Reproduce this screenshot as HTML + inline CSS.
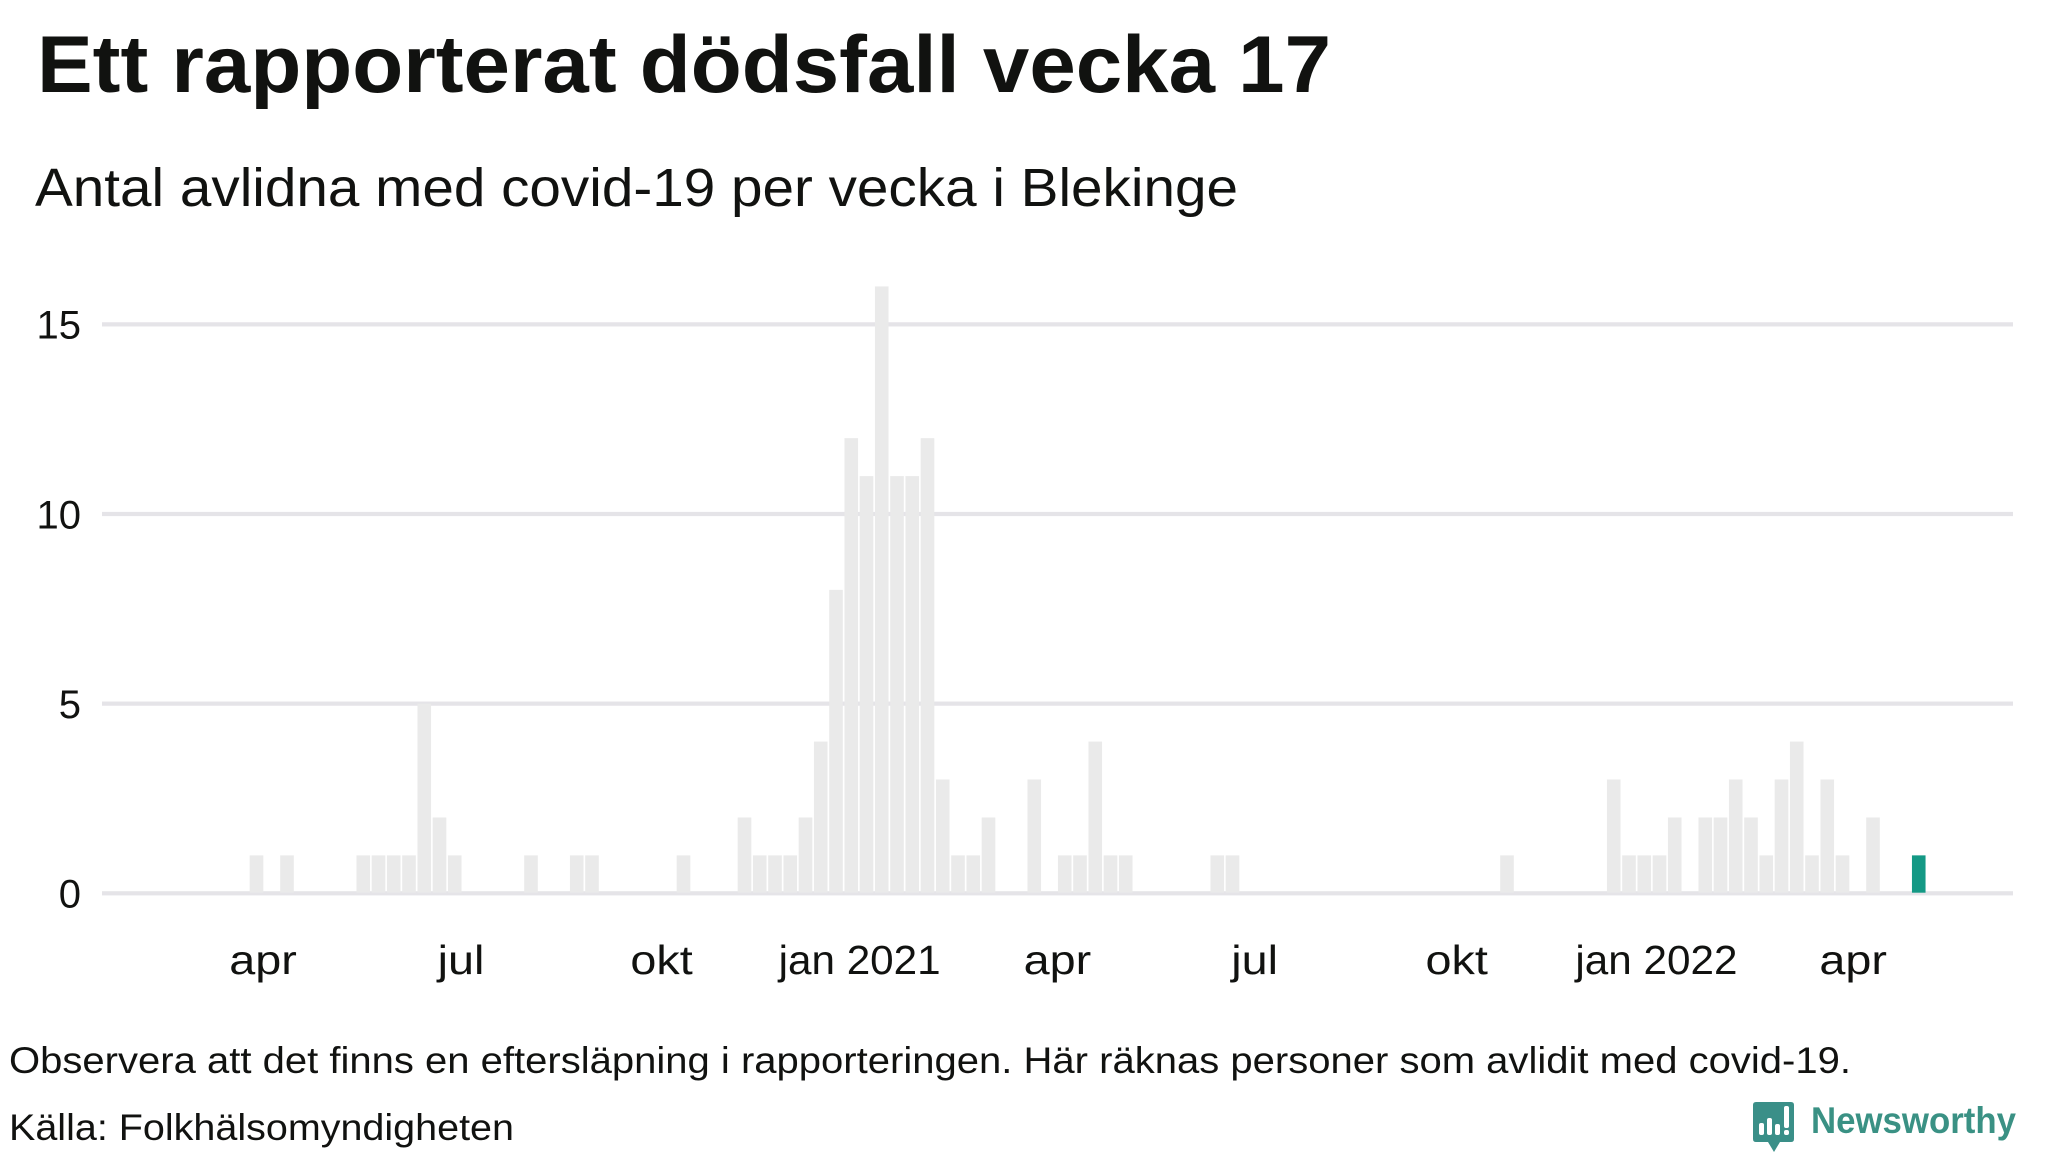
<!DOCTYPE html>
<html lang="sv">
<head>
<meta charset="utf-8">
<title>Ett rapporterat dödsfall vecka 17</title>
<style>
html,body{margin:0;padding:0;background:#fff;width:2048px;height:1152px;overflow:hidden}
svg{display:block}
text{font-family:"Liberation Sans",sans-serif;fill:#111210}
</style>
</head>
<body>
<svg id="chart" xmlns="http://www.w3.org/2000/svg" width="2048" height="1152" viewBox="0 0 2048 1152">
  <text x="37" y="92" font-size="81" font-weight="700" textLength="1294" lengthAdjust="spacingAndGlyphs">Ett rapporterat dödsfall vecka 17</text>
  <text x="35" y="206" font-size="54" textLength="1203" lengthAdjust="spacingAndGlyphs">Antal avlidna med covid-19 per vecka i Blekinge</text>
  <g id="grid"></g>
  <g id="yticks"></g>
  <g id="bars"></g>
  <g id="xticks"></g>
  <text x="9" y="1073" font-size="37" textLength="1842" lengthAdjust="spacingAndGlyphs">Observera att det finns en eftersläpning i rapporteringen. Här räknas personer som avlidit med covid-19.</text>
  <text x="9" y="1140" font-size="37" textLength="505" lengthAdjust="spacingAndGlyphs">Källa: Folkhälsomyndigheten</text>
  <g>
    <path d="M1756 1102H1791Q1794 1102 1794 1105V1139Q1794 1142 1791 1142H1780L1774 1152L1768 1142H1756Q1753 1142 1753 1139V1105Q1753 1102 1756 1102Z" fill="#3a8f88"/>
    <g fill="#fff">
      <rect x="1759" y="1123" width="5" height="12" rx="2"/>
      <rect x="1767" y="1118" width="5" height="17" rx="2"/>
      <rect x="1775" y="1124" width="5" height="11" rx="2"/>
      <rect x="1784" y="1106" width="5" height="22" rx="2"/>
      <rect x="1784" y="1130" width="5" height="5" rx="2"/>
    </g>
    <text x="1811" y="1133" font-size="37" font-weight="700" style="fill:#3a9184" textLength="205" lengthAdjust="spacingAndGlyphs">Newsworthy</text>
  </g>
</svg>
<script>
const weeks = [
  "2020-v13","2020-v14","2020-v15","2020-v16","2020-v17","2020-v18","2020-v19","2020-v20","2020-v21","2020-v22",
  "2020-v23","2020-v24","2020-v25","2020-v26","2020-v27","2020-v28","2020-v29","2020-v30","2020-v31","2020-v32",
  "2020-v33","2020-v34","2020-v35","2020-v36","2020-v37","2020-v38","2020-v39","2020-v40","2020-v41","2020-v42",
  "2020-v43","2020-v44","2020-v45","2020-v46","2020-v47","2020-v48","2020-v49","2020-v50","2020-v51","2020-v52",
  "2020-v53","2021-v01","2021-v02","2021-v03","2021-v04","2021-v05","2021-v06","2021-v07","2021-v08","2021-v09",
  "2021-v10","2021-v11","2021-v12","2021-v13","2021-v14","2021-v15","2021-v16","2021-v17","2021-v18","2021-v19",
  "2021-v20","2021-v21","2021-v22","2021-v23","2021-v24","2021-v25","2021-v26","2021-v27","2021-v28","2021-v29",
  "2021-v30","2021-v31","2021-v32","2021-v33","2021-v34","2021-v35","2021-v36","2021-v37","2021-v38","2021-v39",
  "2021-v40","2021-v41","2021-v42","2021-v43","2021-v44","2021-v45","2021-v46","2021-v47","2021-v48","2021-v49",
  "2021-v50","2021-v51","2021-v52","2022-v01","2022-v02","2022-v03","2022-v04","2022-v05","2022-v06","2022-v07",
  "2022-v08","2022-v09","2022-v10","2022-v11","2022-v12","2022-v13","2022-v14","2022-v15","2022-v16","2022-v17"
];
const deaths = [
  1,0,1,0,0,0,0,1,1,1,
  1,5,2,1,0,0,0,0,1,0,
  0,1,1,0,0,0,0,0,1,0,
  0,0,2,1,1,1,2,4,8,12,
  11,16,11,11,12,3,1,1,2,0,
  0,3,0,1,1,4,1,1,0,0,
  0,0,0,1,1,0,0,0,0,0,
  0,0,0,0,0,0,0,0,0,0,
  0,0,1,0,0,0,0,0,0,3,
  1,1,1,2,0,2,2,3,2,1,
  3,4,1,3,1,0,2,0,0,1
];
const yTicks = [0, 5, 10, 15];
const xTickLabels = ["apr","jul","okt","jan 2021","apr","jul","okt","jan 2022","apr"];
const xTickWeeks = [0.43,13.41,26.56,39.55,52.52,65.45,78.7,91.8,104.7];

const NS = "http://www.w3.org/2000/svg";
const xScale = function (w) { return 256.5 + w * 15.25; };
const yScale = function (v) { return 893.3 - v * 37.93; };

const gridG = document.getElementById("grid");
const yG = document.getElementById("yticks");
yTicks.forEach(function (t) {
  const line = document.createElementNS(NS, "rect");
  
  
  line.setAttribute("x", 102);
  line.setAttribute("y", yScale(t) - 2.1);
  line.setAttribute("width", 1911);
  line.setAttribute("height", 4.2);
  line.setAttribute("fill", "#e5e4e8");
  gridG.appendChild(line);
  const lab = document.createElementNS(NS, "text");
  
  
  lab.setAttribute("x", 81);
  lab.setAttribute("y", yScale(t) + 14.3);
  lab.setAttribute("font-size", 40);
  lab.setAttribute("text-anchor", "end");
  lab.textContent = t;
  yG.appendChild(lab);
});

const barG = document.getElementById("bars");
const lastIndex = deaths.length - 1;
deaths.forEach(function (v, i) {
  if (v <= 0) return;
  const r = document.createElementNS(NS, "rect");
  
  
  r.setAttribute("x", xScale(i) - 6.8);
  r.setAttribute("y", yScale(v));
  r.setAttribute("width", 13.6);
  r.setAttribute("height", yScale(0) - yScale(v) - 0.6);
  r.setAttribute("fill", i === lastIndex ? "#149985" : "#eaeaea");
  const tip = document.createElementNS(NS, "title");
  tip.textContent = weeks[i] + ": " + v;
  r.appendChild(tip);
  barG.appendChild(r);
});

const xG = document.getElementById("xticks");
xTickLabels.forEach(function (label, i) {
  const t = document.createElementNS(NS, "text");
  
  
  t.setAttribute("x", xScale(xTickWeeks[i]));
  t.setAttribute("y", 974);
  t.setAttribute("font-size", 41);
  t.setAttribute("text-anchor", "middle");
  t.textContent = label;
  xG.appendChild(t);
  const len = t.getComputedTextLength();
  t.setAttribute("textLength", len * (label.length > 3 ? 1.03 : 1.14));
  t.setAttribute("lengthAdjust", "spacingAndGlyphs");
});
</script>
</body>
</html>
